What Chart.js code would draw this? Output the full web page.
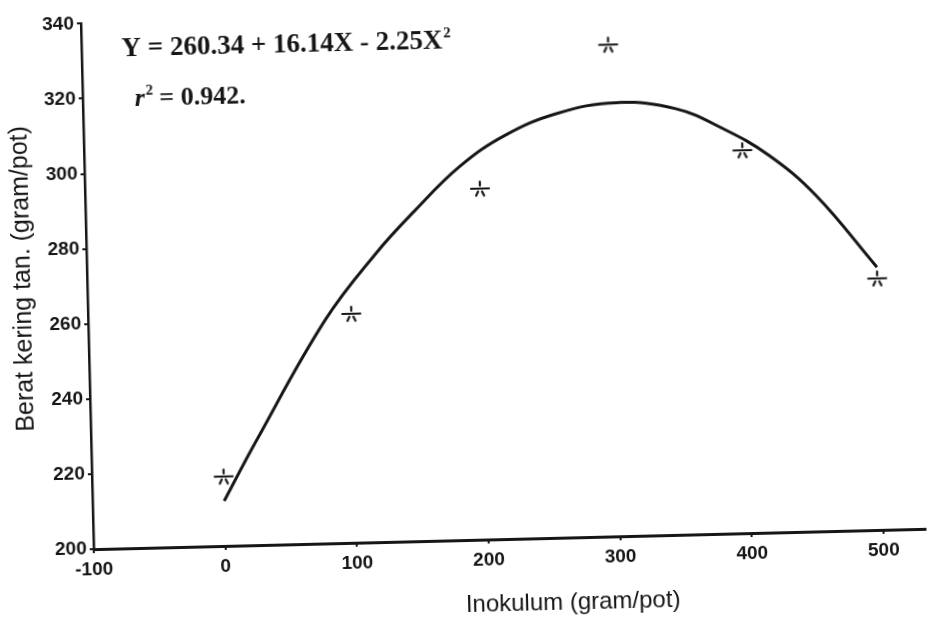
<!DOCTYPE html>
<html>
<head>
<meta charset="utf-8">
<script src="https://cdn.jsdelivr.net/npm/chart.js@4.4.1/dist/chart.umd.min.js"></script>
<style>
  html, body { margin: 0; padding: 0; background: #fff; overflow: hidden; }
  #wrap { width: 930px; height: 621px; transform: rotate(-1.4deg); }
</style>
</head>
<body>
<div id="wrap"><canvas id="chart" width="930" height="621"></canvas></div>
<script>
// berat kering per dosis inokulum (titik pengamatan)
const dosis = [0, 100, 200, 300, 400, 500];
const beratKering = [218.5, 261, 293.5, 331, 302, 267];

// kurva regresi kuadratik, dibaca di sepanjang garisnya
const kurvaX = [0, 25, 80, 120, 150, 185, 220, 260, 305, 350, 385, 420, 455, 500];
const kurvaY = [212, 227.5, 259.5, 277, 288, 299.5, 307.5, 313, 315.5, 313.5, 308, 300.5, 289.5, 270];

const xTicks = [-100, 0, 100, 200, 300, 400, 500];
const yTicks = [200, 220, 240, 260, 280, 300, 320, 340];

const persamaan = 'Y = 260.34 + 16.14X - 2.25X';
const koefisien = ' = 0.942.';

const hitam = '#161616';

// penanda titik: garis datar dengan coretan kecil di atas dan bawah
function buatPenanda() {
  const c = document.createElement('canvas');
  c.width = 24;
  c.height = 18;
  const g = c.getContext('2d');
  g.strokeStyle = hitam;
  g.lineWidth = 2.2;
  g.lineCap = 'round';
  g.beginPath();
  g.moveTo(3, 9); g.lineTo(21, 9);
  g.moveTo(12, 6); g.lineTo(12, 2);
  g.moveTo(10, 12); g.lineTo(8, 16);
  g.moveTo(14, 12); g.lineTo(16, 16);
  g.stroke();
  return c;
}

// teks persamaan dan judul sumbu
const teksPlugin = {
  id: 'teks',
  afterDraw(chart) {
    const ctx = chart.ctx;
    const serif = '"Liberation Serif", "Times New Roman", serif';
    ctx.save();
    ctx.fillStyle = hitam;
    ctx.textBaseline = 'alphabetic';
    ctx.textAlign = 'left';

    ctx.font = 'bold 27px ' + serif;
    ctx.fillText(persamaan, 128, 48);
    let w = ctx.measureText(persamaan).width;
    ctx.font = 'bold 15px ' + serif;
    ctx.fillText('2', 128 + w + 1, 37);

    ctx.font = 'bold italic 26px ' + serif;
    ctx.fillText('r', 140, 98);
    w = ctx.measureText('r').width;
    ctx.font = 'bold 15px ' + serif;
    ctx.fillText('2', 140 + w + 1, 87);
    ctx.font = 'bold 26px ' + serif;
    ctx.fillText(koefisien, 140 + w + 8, 98);

    ctx.font = '24px "Liberation Sans", Arial, sans-serif';
    ctx.textAlign = 'center';
    ctx.textBaseline = 'middle';
    ctx.fillText('Inokulum (gram/pot)', 566, 605);

    ctx.font = '25px "Liberation Sans", Arial, sans-serif';
    ctx.translate(24, 268);
    ctx.rotate(-Math.PI / 2);
    ctx.fillText('Berat kering tan. (gram/pot)', 0, 0);
    ctx.restore();
  }
};

const fontTick = { family: '"Liberation Sans", Arial, sans-serif', weight: 'bold', size: 19 };

new Chart(document.getElementById('chart'), {
  type: 'scatter',
  data: {
    datasets: [
      {
        label: 'Kurva',
        type: 'line',
        data: kurvaX.map((x, i) => ({ x, y: kurvaY[i] })),
        borderColor: hitam,
        borderWidth: 3,
        pointRadius: 0,
        fill: false,
        tension: 0.4
      },
      {
        label: 'Pengamatan',
        data: dosis.map((x, i) => ({ x, y: beratKering[i] })),
        pointStyle: buatPenanda(),
        pointRadius: 9,
        showLine: false
      }
    ]
  },
  options: {
    responsive: false,
    animation: false,
    devicePixelRatio: 1,
    layout: { padding: { top: 13, right: 0, bottom: 0, left: 0 } },
    plugins: { legend: { display: false }, tooltip: { enabled: false } },
    scales: {
      x: {
        type: 'linear',
        min: -100,
        max: 532,
        afterBuildTicks: s => { s.ticks = xTicks.map(v => ({ value: v })); },
        afterFit: s => { s.height = 81; },
        ticks: { color: hitam, font: fontTick, padding: 5, maxRotation: 0, autoSkip: false },
        grid: { display: true, drawOnChartArea: false, drawTicks: true, tickLength: 4, color: hitam, lineWidth: 2 },
        border: { display: true, color: hitam, width: 3 }
      },
      y: {
        type: 'linear',
        min: 200,
        max: 340,
        afterBuildTicks: s => { s.ticks = yTicks.map(v => ({ value: v })); },
        afterFit: s => { s.width = 88; },
        ticks: { color: hitam, font: fontTick, padding: 3 },
        grid: { display: true, drawOnChartArea: false, drawTicks: true, tickLength: 4, color: hitam, lineWidth: 2 },
        border: { display: true, color: hitam, width: 2.5, dash: [3, 2] }
      }
    }
  },
  plugins: [teksPlugin]
});
</script>
</body>
</html>
